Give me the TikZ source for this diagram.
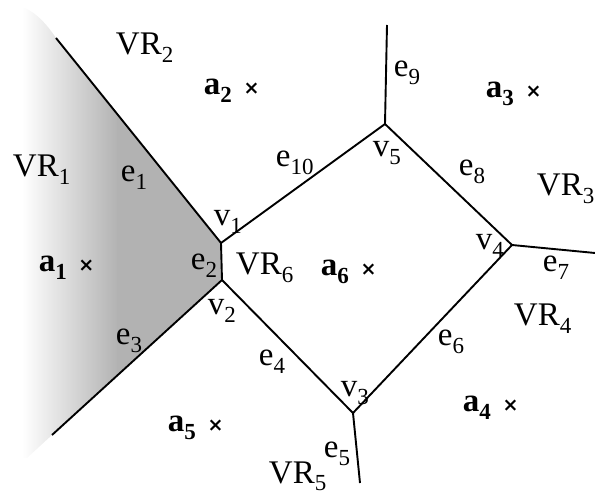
\documentclass[tikz,border=0pt]{standalone}
\usepackage{fontspec}
\setmainfont{Liberation Serif}
\newfontfamily\crossfont{DejaVu Sans}
\definecolor{shadegray}{gray}{0.70}
\newcommand\lo[1]{\raisebox{-0.24em}{\fontsize{23}{23}\selectfont #1}}
\newcommand\site[1]{\textbf{a\lo{#1}}\hspace{0.35em}{\crossfont\fontsize{19}{19}\selectfont\bfseries ×}}

\begin{document}
\begin{tikzpicture}[x=1pt, y=-1pt, line width=1.9pt,
	every node/.style={font=\fontsize{33}{40}\selectfont, inner sep=0pt, anchor=base west}]
	\useasboundingbox (0,0) rectangle (595,494);
	\coordinate (v1) at (221,243);
	\coordinate (v2) at (222,280);
	\coordinate (v3) at (353,413);
	\coordinate (v4) at (512,245);
	\coordinate (v5) at (385,124);
	\coordinate (e1end) at (56,38);
	\coordinate (e3end) at (52,435);
	\coordinate (e5end) at (360,483);
	\coordinate (e7end) at (595,253);
	\coordinate (e9end) at (387,25);
	\begin{scope}
		\clip (0,8) -- (25,8) .. controls (38,14) and (48,26) .. (e1end) -- (v1) -- (v2) -- (e3end) -- (27,458) -- (0,458) -- cycle;
		\shade[left color=white, right color=shadegray] (22,0) rectangle (118,494);
		\fill[shadegray] (117,0) rectangle (230,494);
	\end{scope}
	\draw (e1end) -- (v1) -- (v2) -- (e3end);
	\draw (v2) -- (v3) -- (v4) -- (v5) -- (v1);
	\draw (v3) -- (e5end);
	\draw (v4) -- (e7end);
	\draw (v5) -- (e9end);
	\node (vr1) at (12,177) {VR\lo{1}};
	\node (vr2) at (115,55) {VR\lo{2}};
	\node (vr3) at (536,196) {VR\lo{3}};
	\node (vr4) at (513,326) {VR\lo{4}};
	\node (vr5) at (268,483) {VR\lo{5}};
	\node (vr6) at (235,275) {VR\lo{6}};
	\node (a1) at (38,272) {\site{1}};
	\node (a2) at (203,95) {\site{2}};
	\node (a3) at (485,98) {\site{3}};
	\node (a4) at (462,412) {\site{4}};
	\node (a5) at (167,432) {\site{5}};
	\node (a6) at (320,276) {\site{6}};
	\node (lv1) at (213,226) {v\lo{1}};
	\node (lv2) at (207,315) {v\lo{2}};
	\node (lv3) at (340,397) {v\lo{3}};
	\node (lv4) at (475,250) {v\lo{4}};
	\node (lv5) at (372,157) {v\lo{5}};
	\node (le1) at (120,182) {e\lo{1}};
	\node (le2) at (190,270) {e\lo{2}};
	\node (le3) at (115,345) {e\lo{3}};
	\node (le4) at (258,366) {e\lo{4}};
	\node (le5) at (323,458) {e\lo{5}};
	\node (le6) at (437,346) {e\lo{6}};
	\node (le7) at (542,272) {e\lo{7}};
	\node (le8) at (458,176) {e\lo{8}};
	\node (le9) at (393,77) {e\lo{9}};
	\node (le10) at (275,167) {e\lo{10}};
\end{tikzpicture}
\end{document}
